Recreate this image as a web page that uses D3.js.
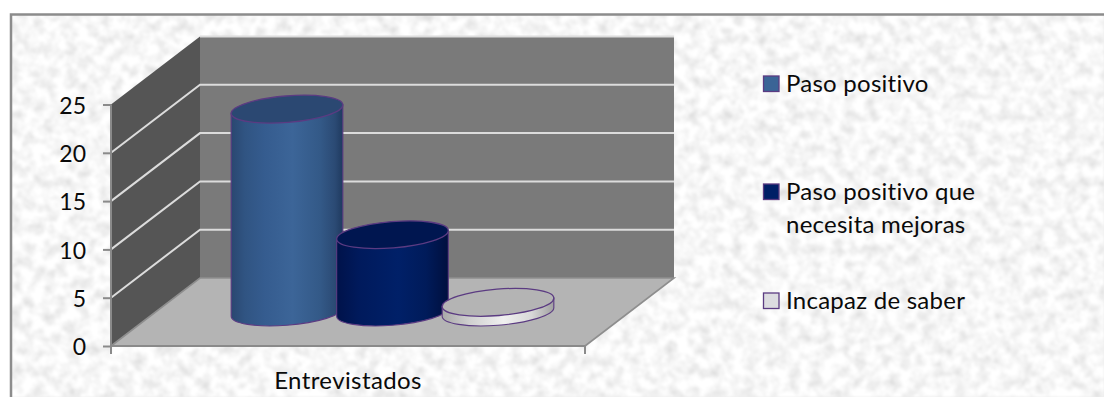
<!DOCTYPE html>
<html><head><meta charset="utf-8">
<script src="https://cdn.jsdelivr.net/npm/d3@7/dist/d3.min.js"></script>
<style>html,body{margin:0;padding:0;background:#fff;overflow:hidden}svg{display:block}text{font-family:Lato,"Open Sans",sans-serif;fill:#0a0a0a;font-variant-ligatures:none}</style>
</head><body><svg id="c" width="1104" height="397"></svg>
<script>
const seriesNames = ["Paso positivo", "Paso positivo que necesita mejoras", "Incapaz de saber"];
const legendLines = [["Paso positivo"], ["Paso positivo que", "necesita mejoras"], ["Incapaz de saber"]];
const seriesValues = [21, 8, 1];
const category = ["Entrevistados"];
const yTicks = [0, 5, 10, 15, 20, 25];
const sideStops = [
  [[0,"#2a4770"],[.12,"#305482"],[.3,"#355c8f"],[.55,"#3c6598"],[.8,"#335987"],[.93,"#2b4a74"],[1,"#1f3a5f"]],
  [[0,"#00124a"],[.2,"#001a5c"],[.55,"#002068"],[.8,"#001b5a"],[1,"#000f3e"]],
  [[0,"#a8a8a8"],[.25,"#d0d0d0"],[.55,"#f0f0f0"],[.8,"#d8d8d8"],[1,"#a0a0a0"]]
];
const topColors = ["#2b4872", "#001650", "#b4b4b4"];
const swatchColors = ["#3a6496", "#001f66", "#dcdce0"];
const W = 1104, H = 397;
const svg = d3.select("#c");
const defs = svg.append("defs");

// marble background texture
const f = defs.append("filter").attr("id","marble").attr("x",0).attr("y",0).attr("width","100%").attr("height","100%");
f.append("feTurbulence").attr("type","fractalNoise").attr("baseFrequency",0.09).attr("numOctaves",3).attr("seed",7);
f.append("feColorMatrix").attr("type","matrix").attr("values","0.5 0 0 0 0.68  0.5 0 0 0 0.68  0.5 0 0 0 0.68  0 0 0 0 1");
f.append("feGaussianBlur").attr("stdDeviation",0.8);
svg.append("rect").attr("x",11).attr("y",15).attr("width",W-11).attr("height",H-15).attr("fill","#ececec");
svg.append("rect").attr("x",11).attr("y",15).attr("width",W-11).attr("height",H-15).attr("filter","url(#marble)");
svg.append("path").attr("d",`M11,${H}V14.5H${W}`).attr("fill","none").attr("stroke","#8c8c8c").attr("stroke-width",2.5);

// scales
const y = d3.scaleLinear().domain([0,25]).range([346,104.5]);
const x = d3.scaleBand().domain(category).range([111,585]);
const depth = {dx:89, dy:-68};
const seriesX = d3.scalePoint().domain(seriesNames).range([287,498]);
const baseShift = 34;   // bars stand in the middle of the floor's depth
const rx = 56, ry = 13.2, tilt = -4.6;
const yBack = v => y(v) + depth.dy;
const x0 = x.range()[0], x1 = x.range()[1];

// walls and floor
svg.append("path").attr("fill","#7a7a7a")
  .attr("d",`M${x0+depth.dx},${yBack(25)}H${x1+depth.dx}V${yBack(0)}H${x0+depth.dx}Z`);
svg.append("path").attr("fill","#555555")
  .attr("d",`M${x0},${y(25)}L${x0+depth.dx},${yBack(25)}V${yBack(0)}L${x0},${y(0)}Z`);
svg.append("path").attr("fill","#b4b4b4")
  .attr("d",`M${x0},${y(0)}L${x0+depth.dx},${yBack(0)}H${x1+depth.dx}L${x1},${y(0)}Z`);

// gridlines
const gridVals = yTicks.filter(v=>v>0);
svg.append("g").selectAll("path").data(gridVals).join("path")
  .attr("fill","none").attr("stroke","#dcdcdc").attr("stroke-width",2)
  .attr("d",d=> d===25 ? `M${x0+depth.dx},${yBack(d)}H${x1+depth.dx}`
     : `M${x0},${y(d)}L${x0+depth.dx},${yBack(d)}H${x1+depth.dx}`);
svg.append("path").attr("fill","none").attr("stroke","#8e8e8e").attr("stroke-width",1.6)
  .attr("d",`M${x0},${y(0)}L${x0+depth.dx},${yBack(0)}H${x1+depth.dx}L${x1},${y(0)}`);

// axes
const axisL = d3.axisLeft(y).tickValues(yTicks).tickSize(8).tickPadding(17);
const gL = svg.append("g").attr("transform",`translate(${x0},0)`).call(axisL);
gL.selectAll("text").attr("font-size",23).attr("font-family","Lato").attr("dy","0.38em");
gL.selectAll("line,path").attr("stroke","#8a8a8a").attr("stroke-width",2);
gL.select("path").attr("d",`M0,${y(25)}V${y(0)}`);

const axisB = d3.axisBottom(x).tickSize(0).tickPadding(26);
const gB = svg.append("g").attr("transform",`translate(0,${y(0)})`).call(axisB);
gB.selectAll("text").attr("font-size",24).attr("font-family","Lato").attr("dy","0.71em").attr("letter-spacing",0.4);
gB.select("path").attr("d",`M${x0},0H${x1}`).attr("stroke","#8a8a8a").attr("stroke-width",2);
gB.selectAll("line.edge").data(x.range()).join("line").attr("class","edge")
  .attr("x1",d=>d).attr("x2",d=>d).attr("y1",0).attr("y2",8).attr("stroke","#8a8a8a").attr("stroke-width",2);

// cylinders
seriesNames.forEach((s,i)=>{
  const g = defs.append("linearGradient").attr("id","side"+i);
  sideStops[i].forEach(([o,c])=>g.append("stop").attr("offset",o).attr("stop-color",c));
});
const th = tilt*Math.PI/180;
const tT = Math.atan(-(ry/rx)*Math.tan(th));
const ex = rx*Math.cos(tT)*Math.cos(th) - ry*Math.sin(tT)*Math.sin(th);
const ey = rx*Math.cos(tT)*Math.sin(th) + ry*Math.sin(tT)*Math.cos(th);
const rows = seriesNames.map((s,i)=>({s,i,v:seriesValues[i]}));
const bars = svg.append("g").selectAll("g").data(rows).join("g")
  .attr("transform",d=>`translate(${seriesX(d.s)},0)`);
const baseY = d => y(0)-baseShift;
const topY = d => y(d.v)-baseShift;
bars.append("path")
  .attr("fill",d=>`url(#side${d.i})`).attr("stroke","#5b3b82").attr("stroke-width",1.1)
  .attr("d",d=>{
    const b=baseY(d), t=topY(d);
    return `M${-ex},${t-ey}V${b-ey}A${rx},${ry} ${tilt} 0 0 ${ex},${b+ey}V${t+ey}Z`;
  });
bars.append("ellipse").attr("rx",rx).attr("ry",ry).attr("cy",d=>topY(d))
  .attr("transform",d=>`rotate(${tilt} 0 ${topY(d)})`)
  .attr("fill",d=>topColors[d.i]).attr("stroke","#5b3b82").attr("stroke-width",1.3);

// legend
const legendY = [84,192,301];
const leg = svg.append("g").selectAll("g").data(rows).join("g")
  .attr("transform",d=>`translate(763.5,${legendY[d.i]})`);
leg.append("rect").attr("y",-8).attr("width",15.5).attr("height",15.5)
  .attr("fill",d=>swatchColors[d.i]).attr("stroke","#5b3b82").attr("stroke-width",1.3);
leg.append("text").attr("font-size",24).attr("letter-spacing",0.25).attr("y",8)
  .selectAll("tspan").data(d=>legendLines[d.i]).join("tspan")
  .attr("x",22.5).attr("dy",(d,j)=>j?33:0).text(d=>d);
</script></body></html>
